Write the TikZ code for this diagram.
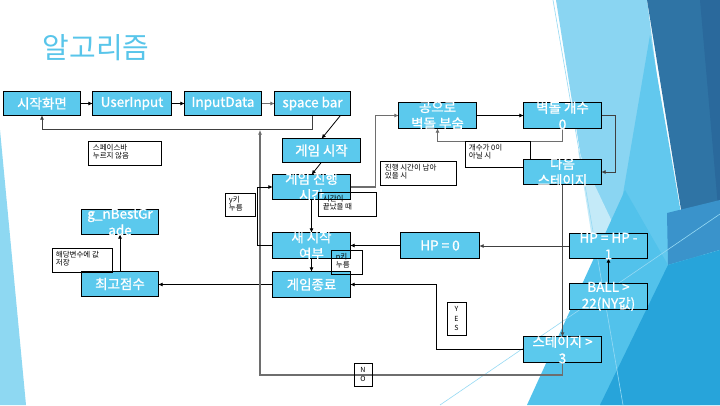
\documentclass[tikz,border=0pt]{standalone}
\usepackage{fontspec}
\setmainfont{Noto Sans CJK KR}
\newfontfamily\boxfont[FakeBold=1]{Noto Sans CJK KR}
\usetikzlibrary{arrows.meta,calc}
\definecolor{boxblue}{RGB}{91,201,237}
\definecolor{titleblue}{RGB}{88,197,234}
\definecolor{linegray}{RGB}{110,110,110}
\definecolor{bglight}{RGB}{138,213,242}
\definecolor{bgpale}{RGB}{196,234,248}
\definecolor{bgmid}{RGB}{98,200,238}
\definecolor{bgdark}{RGB}{47,116,165}
\definecolor{bgdarker}{RGB}{42,105,156}
\definecolor{bgcyan}{RGB}{82,194,235}
\definecolor{bgdeep}{RGB}{39,164,218}
\definecolor{bgsteel}{RGB}{58,147,203}
\definecolor{bgthin}{RGB}{150,218,244}
\definecolor{bgwedge}{RGB}{142,216,242}
\begin{document}
\begin{tikzpicture}[x=1pt,y=-1pt,
  bx/.style={draw=black,line width=0.9pt,fill=boxblue,inner sep=0pt},
  btxt/.style={text=white,font=\boxfont\fontsize{13.5}{16.5}\selectfont,align=center,inner sep=0pt},
  lbl/.style={draw=black,line width=0.7pt,inner sep=0pt},
  ltxt/.style={text=black,font=\fontsize{7.5}{8.8}\selectfont,align=left,inner sep=0pt,anchor=north west},
  vtxt/.style={text=black,font=\fontsize{7}{9.5}\selectfont,align=center,inner sep=0pt},
  conn/.style={draw=black,line width=0.8pt},
  gconn/.style={draw=linegray,line width=1.3pt},
  arr/.style={-{Latex[length=4.5pt,width=4pt]}},
]
\useasboundingbox (0,0) rectangle (720,405);
\fill[white] (0,0) rectangle (720,405);
% background decoration
\fill[bgwedge] (0,130) -- (26,405) -- (0,405) -- cycle;
\fill[bglight] (556,0) -- (647,0) -- (700,405) -- (620,405) -- cycle;
\fill[bgdark] (647,0) -- (720,0) -- (720,240) -- (690,265) -- cycle;
\fill[bgdarker] (700,0) -- (720,0) -- (720,230) -- cycle;
\fill[bgmid] (650,35) -- (690,265) -- (605,300) -- cycle;
\fill[bgpale] (578,150) -- (617,232) -- (609,345) -- cycle;
\fill[bgsteel] (667,213) -- (720,200) -- (720,250) -- (668,265) -- cycle;
\fill[bgcyan] (527,405) -- (625,190) -- (668,265) -- (720,250) -- (720,405) -- cycle;
\fill[bgdeep] (600,405) -- (668,265) -- (720,250) -- (720,405) -- cycle;
\draw[bgthin,line width=0.6pt] (553,0) -- (623,405);
\draw[bgthin,line width=0.6pt] (440,405) -- (720,214);
% title
\node[text=titleblue,font=\fontsize{29}{33}\selectfont,inner sep=0pt,anchor=base west] (title) at (42.5,58) {알고리즘};
% coordinates for bends
\coordinate (ret) at (42,129.5);
\coordinate (nocorner) at (260,375);
\coordinate (noend) at (260,130);
% boxes (geometry only, text added after connectors)
\path (42,103.5) node[minimum width=76pt,minimum height=23pt] (start) {}
      (132,103.5) node[minimum width=78pt,minimum height=23pt] (uin) {}
      (223,103.5) node[minimum width=76pt,minimum height=23pt] (idata) {}
      (312.5,103.5) node[minimum width=75pt,minimum height=23pt] (space) {}
      (321.5,150.5) node[minimum width=77pt,minimum height=23pt] (gstart) {}
      (311.5,187) node[minimum width=77pt,minimum height=24pt] (gprog) {}
      (311.5,245.5) node[minimum width=77pt,minimum height=25pt] (restart) {}
      (311.5,284.5) node[minimum width=77pt,minimum height=25pt] (gend) {}
      (440,245.5) node[minimum width=78pt,minimum height=25pt] (hpzero) {}
      (437.5,115.5) node[minimum width=77pt,minimum height=25pt] (brk) {}
      (562.5,115.5) node[minimum width=77pt,minimum height=25pt] (bcount) {}
      (562.5,172) node[minimum width=77pt,minimum height=24pt] (nextst) {}
      (608.5,246) node[minimum width=77pt,minimum height=24pt] (hpminus) {}
      (608.5,296.5) node[minimum width=77pt,minimum height=25pt] (ball) {}
      (562.5,349.5) node[minimum width=77pt,minimum height=25pt] (stage) {}
      (120,222) node[minimum width=76pt,minimum height=24pt] (best) {}
      (120,284) node[minimum width=76pt,minimum height=24pt] (topsc) {};
% connectors
\draw[conn,arr] (start.east) -- (uin.west);
\draw[conn,arr] (uin.east) -- (idata.west);
\draw[gconn,arr] (idata.east) -- (space.west);
\draw[gconn,draw=black!75,line width=1pt,arr] (space.south) -- (space.south |- ret) -- (ret) -- (start.south);
\draw[conn,arr] (space.east) -- (gstart.north);
\draw[conn,arr] (gstart.south) -- (gprog.north);
\draw[gconn,arr] (gprog.east) -- ++(25,0) |- (brk.west);
\draw[conn,arr] (gprog.south) -- (restart.north);
\draw[conn,arr] (restart.south) -- (gend.north);
\draw[conn,arr] (hpzero.west) -- (restart.east);
\draw[conn,arr] (gend.west) -- (gend.west -| topsc.east);
\draw[conn,arr] (topsc.north) -- (best.south);
\draw[conn,arr] (brk.east) -- (bcount.west);
\draw[gconn,arr] (bcount.south) -- ++(0,13.5) -| (brk.south);
\draw[gconn,draw=black!75,line width=1pt,arr] (bcount.east) -- ++(14,0) |- (nextst.east);
\draw[gconn,draw=black!70,line width=1pt,arr] (nextst.south) -- (stage.north);
\draw[gconn,draw=black!75,line width=1pt,arr] (hpminus.west) -- (hpminus.west -| hpzero.east);
\draw[conn,arr] (ball.north) -- (ball.north |- hpminus.south);
\draw[conn,arr] (stage.west) -- ++(-87,0) |- (gend.east);
\draw[gconn,arr] (stage.south) |- (nocorner) -- (noend);
\draw[conn,arr] (restart.west) -- ++(-15,0) |- (gprog.west);
% label behind the next-stage box
\node[lbl,minimum width=65pt,minimum height=26pt] (lcount) at (497.5,154) {};
\node[ltxt] (lcountt) at ([shift={(4,3)}]lcount.north west) {개수가 0이\\아닐 시};
% boxes drawn
\foreach \n in {start,uin,idata,space,gstart,gprog,restart,gend,hpzero,brk,bcount,nextst,hpminus,ball,stage,best,topsc}
  \draw[bx] (\n.north west) rectangle (\n.south east);
% box texts
\node[btxt] (startt) at (start) {시작화면};
\node[btxt] (uint) at (uin) {UserInput};
\node[btxt] (idatat) at (idata) {InputData};
\node[btxt] (spacet) at (space) {space bar};
\node[btxt] (gstartt) at (gstart) {게임 시작};
\node[btxt] (gprogt) at (gprog) {게임 진행\\시간};
\node[btxt] (restartt) at (restart) {새 시작\\여부};
\node[btxt] (gendt) at (gend) {게임종료};
\node[btxt] (hpzerot) at (hpzero) {HP = 0};
\node[btxt] (brkt) at (brk) {공으로\\벽돌 부숨};
\node[btxt] (bcountt) at (bcount) {벽돌 개수\\0};
\node[btxt] (nextstt) at (nextst) {다음\\스테이지};
\node[btxt] (hpminust) at (hpminus) {HP = HP -\\1};
\node[btxt] (ballt) at (ball) {BALL >\\22(NY값)};
\node[btxt] (staget) at (stage) {스테이지 >\\3};
\node[btxt] (bestt) at (best) {g\_nBestGr\\ade};
\node[btxt] (topsct) at (topsc) {최고점수};
% labels
\node[lbl,minimum width=73pt,minimum height=24pt] (lspace) at (124.5,153) {};
\node[ltxt] (lspacet) at ([shift={(5,3)}]lspace.north west) {스페이스바\\누르지 않음};
\node[lbl,minimum width=76pt,minimum height=24pt] (lremain) at (418,173) {};
\node[ltxt] (lremaint) at ([shift={(5,3)}]lremain.north west) {진행 시간이 남아\\있을 시};
\node[lbl,minimum width=58pt,minimum height=24pt] (lover) at (347,204) {};
\node[ltxt] (lovert) at ([shift={(5,3)}]lover.north west) {시간이\\끝났을 때};
\node[lbl,minimum width=30pt,minimum height=23pt] (lykey) at (240,204.5) {};
\node[ltxt] (lykeyt) at ([shift={(4,3)}]lykey.north west) {y키\\누름};
\node[lbl,minimum width=31pt,minimum height=24pt] (lnkey) at (346.5,262) {};
\node[ltxt] (lnkeyt) at ([shift={(5,3)}]lnkey.north west) {n키\\누름};
\node[lbl,minimum width=60pt,minimum height=24pt] (lsave) at (82,260) {};
\node[ltxt] (lsavet) at ([shift={(4,3)}]lsave.north west) {해당변수에 값\\저장};
\node[lbl,minimum width=19pt,minimum height=33pt] (lyes) at (456.5,318.5) {};
\node[vtxt] (lyest) at (lyes) {Y\\E\\S};
\node[lbl,minimum width=18pt,minimum height=23pt] (lno) at (363,374.5) {};
\node[vtxt] (lnot) at (lno) {N\\O};
\end{tikzpicture}
\end{document}
